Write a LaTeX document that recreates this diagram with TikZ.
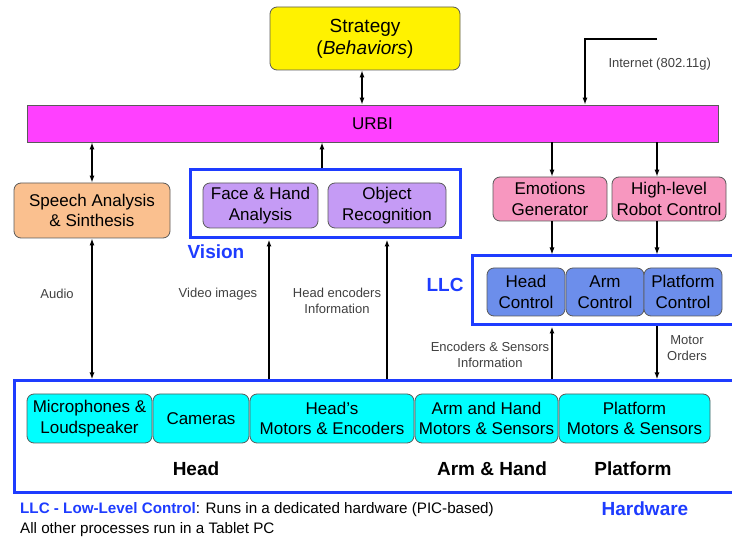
\documentclass[tikz,border=0pt]{standalone}
\usepackage{fontspec}
\setmainfont{Liberation Sans}
\usetikzlibrary{arrows.meta}
\definecolor{frameblue}{HTML}{1E3CFF}
\definecolor{boxgray}{HTML}{5A5A5A}
\definecolor{urbicol}{HTML}{FF40FF}
\definecolor{peach}{HTML}{FAC08F}
\definecolor{lavender}{HTML}{C59BF5}
\definecolor{pinkbox}{HTML}{F797BF}
\definecolor{llcblue}{HTML}{6C8EEB}
\definecolor{cyanbox}{HTML}{00FFFF}
\definecolor{lblgray}{HTML}{404040}
\begin{document}
\begin{tikzpicture}[x=1pt,y=-1pt,
  box/.style={draw=boxgray, line width=0.8pt, rounded corners=7pt, align=center, inner sep=0pt,
    font=\fontsize{17}{20.5}\selectfont},
  frame/.style={draw=frameblue, line width=3pt, inner sep=0pt},
  lbl/.style={text=lblgray, align=center, font=\fontsize{13}{15.5}\selectfont},
  bluelbl/.style={text=frameblue, font=\bfseries\fontsize{19}{22}\selectfont},
  blk/.style={font=\bfseries\fontsize{19}{22}\selectfont},
  arr/.style={-{Latex[length=7pt,width=5pt]}, line width=1.1pt},
  darr/.style={{Latex[length=7pt,width=5pt]}-{Latex[length=7pt,width=5pt]}, line width=1.1pt},
  heavy/.style={line width=2pt}
]
\useasboundingbox (0,0) rectangle (732,540);

% top
\node[box, fill=yellow, minimum width=190pt, minimum height=63pt, font=\fontsize{19}{22}\selectfont] (strat) at (365,38.5) {Strategy\\(\textit{Behaviors})};
\node[draw=boxgray, line width=0.8pt, fill=urbicol, minimum width=691pt, minimum height=37pt, inner sep=0pt, font=\fontsize{17}{19}\selectfont] (urbi) at (372.5,123.5) {URBI};

% middle row
\node[box, fill=peach, minimum width=156pt, minimum height=55pt] (speech) at (92,210.5) {Speech Analysis\\\& Sinthesis};
\node[frame, minimum width=270pt, minimum height=68pt] (vis) at (325,204) {};
\node[box, fill=lavender, minimum width=115pt, minimum height=45pt] (face) at (260.5,205.5) {Face \& Hand\\Analysis};
\node[box, fill=lavender, minimum width=118pt, minimum height=45pt] (obj) at (387,205.5) {Object\\Recognition};
\node[bluelbl] (vislbl) at (216,252) {Vision};
\node[box, fill=pinkbox, minimum width=114pt, minimum height=44pt] (emot) at (550,199) {Emotions\\Generator};
\node[box, fill=pinkbox, minimum width=114pt, minimum height=44pt] (hlrc) at (669,199) {High-level\\Robot Control};

% LLC
\node[frame, minimum width=273pt, minimum height=69pt] (llc) at (608.5,290.5) {};
\node[bluelbl] (llclbl) at (445,285) {LLC};
\node[box, fill=llcblue, minimum width=78pt, minimum height=48pt] (headc) at (526,292) {Head\\Control};
\node[box, fill=llcblue, minimum width=78pt, minimum height=48pt] (armc) at (605,292) {Arm\\Control};
\node[box, fill=llcblue, minimum width=78pt, minimum height=48pt] (platc) at (683,292) {Platform\\Control};

% hardware
\node[frame, minimum width=731pt, minimum height=111pt] (hw) at (379.5,436.5) {};
\node[box, fill=cyanbox, minimum width=125pt, minimum height=49pt] (mic) at (89.5,418.5) {Microphones \&\\Loudspeaker};
\node[box, fill=cyanbox, minimum width=96pt, minimum height=49pt] (cam) at (201,418.5) {Cameras};
\node[box, fill=cyanbox, minimum width=164pt, minimum height=49pt] (hm) at (332,418.5) {Head’s\\Motors \& Encoders};
\node[box, fill=cyanbox, minimum width=143pt, minimum height=49pt] (ah) at (486.5,418.5) {Arm and Hand\\Motors \& Sensors};
\node[box, fill=cyanbox, minimum width=151pt, minimum height=49pt] (pm) at (634.5,418.5) {Platform\\Motors \& Sensors};
\node[blk] (headlbl) at (196,469) {Head};
\node[blk] (armlbl) at (492,469) {Arm \& Hand};
\node[blk] (platlbl) at (633,469) {Platform};
\node[bluelbl] (hwlbl) at (645,509) {Hardware};

% notes
\node[anchor=west, inner sep=0pt, font=\fontsize{15.2}{17}\selectfont] (note1) at (20,510) {\textcolor{frameblue}{\textbf{LLC - Low-Level Control}}: Runs in a dedicated hardware (PIC-based)};
\node[anchor=west, inner sep=0pt, font=\fontsize{15.2}{17}\selectfont] (note2) at (20,530) {All other processes run in a Tablet PC};

% coordinates for connectors
\coordinate (x269) at (269,0);
\coordinate (x322) at (322,0);
\coordinate (x362) at (362,0);
\coordinate (x387) at (387,0);
\coordinate (x552) at (552,0);
\coordinate (x657) at (657,0);
\coordinate (inet) at (657,39);
\coordinate (inetc) at (585,39);

% connectors
\draw[darr] (x362 |- strat.south) -- (x362 |- urbi.north);
\draw[arr] (inet) -- (inetc) -- (inetc |- urbi.north);
\node[lbl, anchor=west] (inetlbl) at (605,64) {Internet (802.11g)};
\draw[darr] (speech.north) -- (speech.north |- urbi.south);
\draw[arr] (x322 |- vis.north) -- (x322 |- urbi.south);
\draw[arr] (x552 |- urbi.south) -- (x552 |- emot.north);
\draw[arr] (x657 |- urbi.south) -- (x657 |- hlrc.north);
\draw[arr] (x552 |- emot.south) -- (x552 |- llc.north);
\draw[arr] (x657 |- hlrc.south) -- (x657 |- llc.north);

\draw[darr, heavy] (speech.south) -- (speech.south |- hw.north);
\node[lbl] (audiolbl) at (57,294) {Audio};
\draw[arr, heavy] (x269 |- hw.north) -- (x269 |- vis.south);
\node[lbl] (videolbl) at (218,294) {Video images};
\draw[arr, heavy] (x387 |- hw.north) -- (x387 |- vis.south);
\node[lbl] (hencl) at (337,301) {Head encoders\\Information};
\draw[arr, heavy] (x552 |- hw.north) -- (x552 |- llc.south);
\node[lbl] (esl) at (490,355) {Encoders \& Sensors\\Information};
\draw[arr, heavy] (x657 |- llc.south) -- (x657 |- hw.north);
\node[lbl] (mol) at (687,348) {Motor\\Orders};
\end{tikzpicture}
\end{document}
